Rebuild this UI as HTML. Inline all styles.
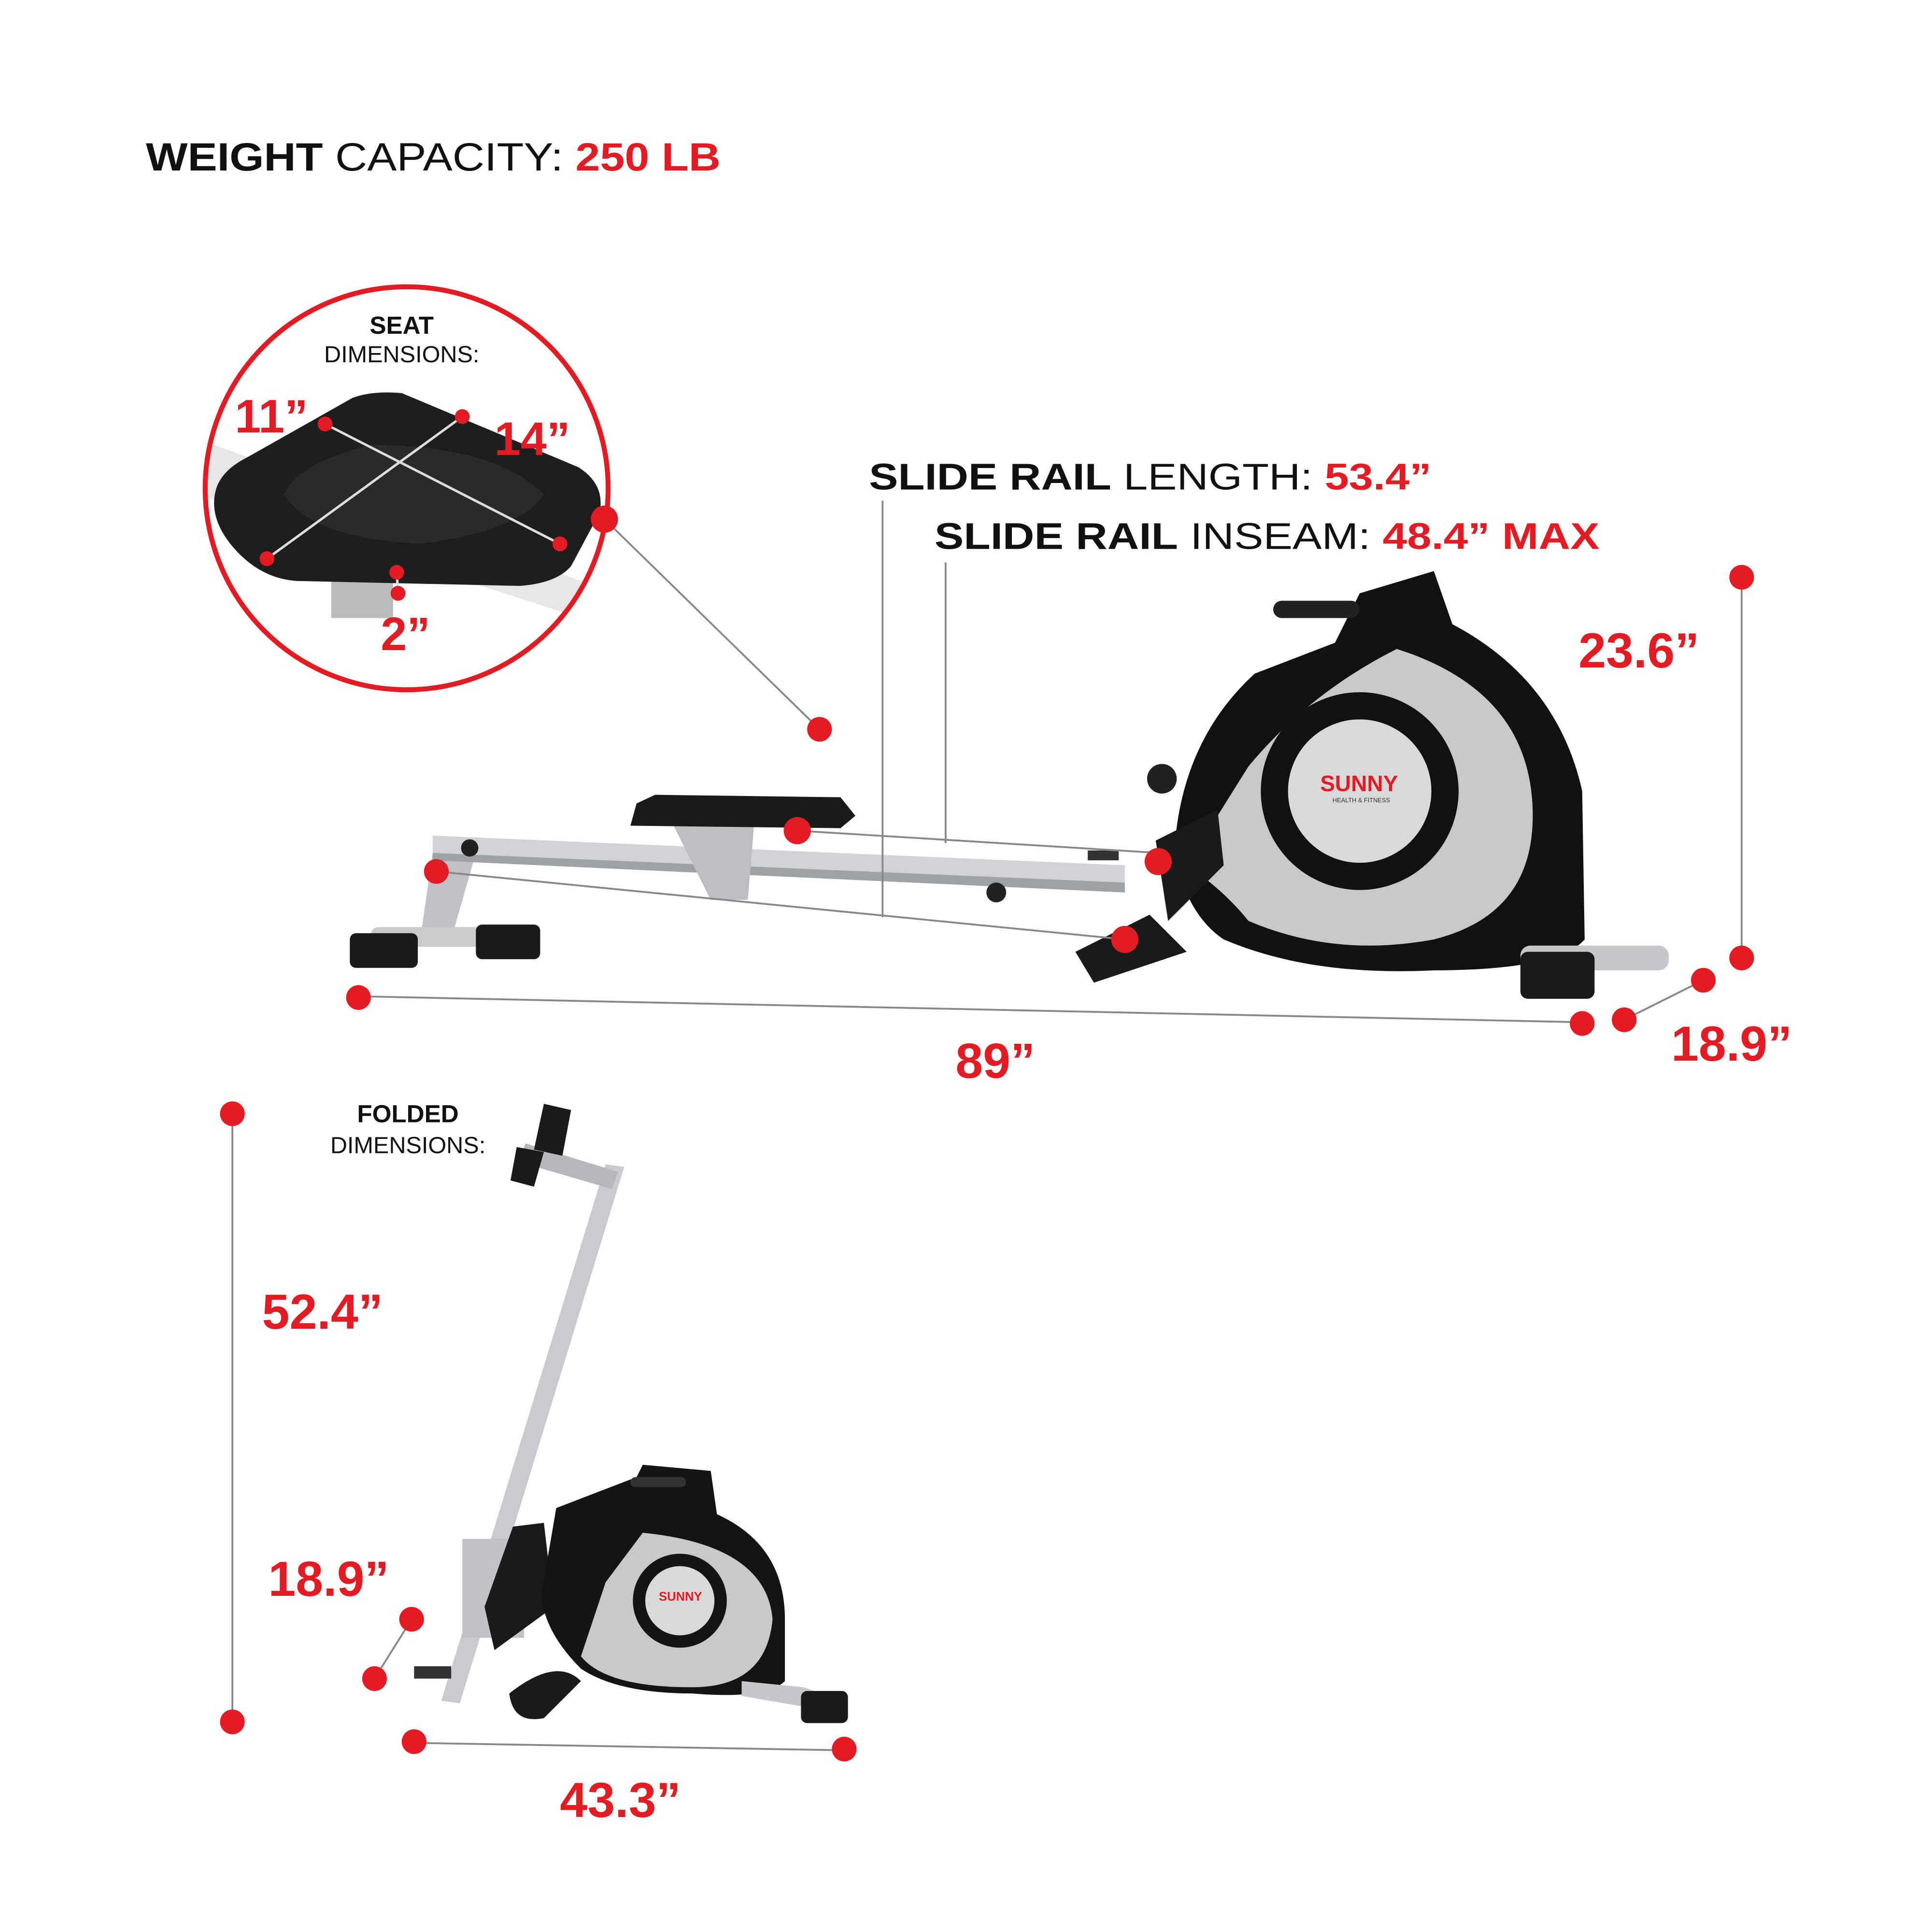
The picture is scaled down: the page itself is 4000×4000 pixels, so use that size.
<!DOCTYPE html>
<html><head><meta charset="utf-8">
<style>
html,body{margin:0;padding:0;background:#fff;}
svg{display:block;}
text{font-family:"Liberation Sans",sans-serif;}
.b{font-weight:bold;}
.r{fill:#e31b23;font-weight:bold;}
</style></head>
<body>
<svg width="4000" height="4000" viewBox="0 0 1563 1563" xmlns="http://www.w3.org/2000/svg">
<rect width="1563" height="1563" fill="#fff"/>

<text x="118" y="138" font-size="32" textLength="465" lengthAdjust="spacingAndGlyphs"><tspan class="b" fill="#111">WEIGHT</tspan><tspan fill="#111"> CAPACITY: </tspan><tspan class="r">250 LB</tspan></text>

<defs><clipPath id="cc"><circle cx="329" cy="395" r="163"/></clipPath></defs>
<g clip-path="url(#cc)">
  <polygon points="160,355 470,470 470,500 160,400" fill="#e6e6e8"/>
  <rect x="268" y="460" width="50" height="40" fill="#bbb"/>
  <path d="M175,395 Q180,380 200,370 L285,322 Q300,316 325,318 L468,378 Q490,392 485,415 L462,458 Q450,472 420,474 L240,470 Q210,468 188,442 Q168,418 175,395Z" fill="#1e1e1e"/>
  <path d="M230,400 Q240,375 300,360 Q400,360 440,400 Q420,430 340,440 Q250,435 230,400Z" fill="#2a2a2a"/>
</g>
<circle cx="329" cy="395" r="163" fill="none" stroke="#e31b23" stroke-width="4"/>
<text x="325" y="270" font-size="20" class="b" text-anchor="middle" fill="#111">SEAT</text>
<text x="325" y="293" font-size="19" text-anchor="middle" fill="#111">DIMENSIONS:</text>
<line x1="263" y1="343" x2="453" y2="440" stroke="#ddd" stroke-width="2"/>
<line x1="374" y1="337" x2="216" y2="452" stroke="#ddd" stroke-width="2"/>
<line x1="321" y1="463" x2="322" y2="480" stroke="#ddd" stroke-width="2"/>
<g fill="#e31b23">
<circle cx="263" cy="343" r="6"/><circle cx="374" cy="337" r="6"/><circle cx="216" cy="452" r="6"/><circle cx="453" cy="440" r="6"/><circle cx="321" cy="463" r="6"/><circle cx="322" cy="480" r="6"/>
</g>
<text x="190" y="350" font-size="38" class="r">11”</text>
<text x="400" y="368" font-size="38" class="r">14”</text>
<text x="308" y="526" font-size="38" class="r">2”</text>

<line x1="489" y1="420" x2="663" y2="590" stroke="#888" stroke-width="1.5"/>

<text x="703" y="396" font-size="30" textLength="455" lengthAdjust="spacingAndGlyphs"><tspan class="b" fill="#111">SLIDE RAIL</tspan><tspan fill="#111"> LENGTH: </tspan><tspan class="r">53.4”</tspan></text>
<text x="756" y="444" font-size="30" textLength="538" lengthAdjust="spacingAndGlyphs"><tspan class="b" fill="#111">SLIDE RAIL</tspan><tspan fill="#111"> INSEAM: </tspan><tspan class="r">48.4” MAX</tspan></text>

<polygon points="350,690 385,690 365,760 340,760" fill="#bfc1c4"/>
<rect x="300" y="750" width="130" height="16" rx="6" fill="#c9cacc"/>
<rect x="283" y="755" width="55" height="28" rx="5" fill="#1a1a1a"/>
<rect x="385" y="748" width="52" height="28" rx="5" fill="#1a1a1a"/>
<polygon points="350,676 910,700 910,722 350,696" fill="#d0d2d5"/>
<polygon points="350,690 910,714 910,722 350,696" fill="#9ea1a5"/>
<circle cx="380" cy="686" r="7" fill="#222"/>
<circle cx="806" cy="722" r="8" fill="#222"/>
<polygon points="545,668 610,668 605,728 575,728" fill="#bcbec1"/>
<path d="M515,650 L530,643 L680,645 L692,660 L680,670 L510,668 Z" fill="#1a1a1a"/>
<path d="M1015,545 L1080,520 L1100,480 L1160,462 L1175,505 Q1260,550 1280,640 L1282,760 Q1260,785 1160,785 Q1060,790 990,760 Q960,740 950,690 Q955,600 1015,545 Z" fill="#111"/>
<path d="M1130,525 Q1240,560 1240,660 Q1240,740 1160,760 Q1080,775 1010,745 Q990,720 960,700 L1010,620 Q1060,560 1130,525 Z" fill="#c7c8ca"/>
<circle cx="1100" cy="640" r="80" fill="#111"/>
<circle cx="1100" cy="640" r="58" fill="#d8d9db"/>
<text x="1068" y="640" font-size="18" class="r">SUNNY</text>
<text x="1078" y="649" font-size="5" fill="#333">HEALTH &amp; FITNESS</text>
<rect x="1030" y="486" width="70" height="14" rx="7" fill="#222"/>
<circle cx="940" cy="630" r="12" fill="#222"/>
<path d="M935,680 L985,655 L990,700 L945,745 Z" fill="#1a1a1a"/>
<path d="M870,770 L930,740 L960,770 L885,795 Z" fill="#1a1a1a"/>
<rect x="880" y="688" width="25" height="8" fill="#333"/>
<rect x="1230" y="765" width="120" height="20" rx="8" fill="#c5c7ca"/>
<rect x="1230" y="770" width="60" height="38" rx="6" fill="#1a1a1a"/>

<g stroke="#888" stroke-width="1.5" fill="none">
<line x1="714" y1="405" x2="714" y2="742"/>
<line x1="353" y1="705" x2="910" y2="760"/>
<line x1="765" y1="455" x2="765" y2="682"/>
<line x1="645" y1="672" x2="937" y2="690"/>
<line x1="290" y1="806" x2="1280" y2="827"/>
<line x1="1409" y1="467" x2="1409" y2="775"/>
<line x1="1314" y1="825" x2="1378" y2="793"/>
<line x1="188" y1="901" x2="188" y2="1393"/>
<line x1="335" y1="1410" x2="683" y2="1416"/>
<line x1="303" y1="1358" x2="333" y2="1310"/>
</g>

<g fill="#e31b23">
<circle cx="489" cy="420" r="11"/>
<circle cx="663" cy="590" r="10"/>
<circle cx="645" cy="672" r="11"/>
<circle cx="937" cy="697" r="11"/>
<circle cx="910" cy="760" r="11"/>
<circle cx="353" cy="705" r="10"/>
<circle cx="1409" cy="467" r="10"/>
<circle cx="1409" cy="775" r="10"/>
<circle cx="1378" cy="793" r="10"/>
<circle cx="1314" cy="825" r="10"/>
<circle cx="1280" cy="828" r="10"/>
<circle cx="290" cy="807" r="10"/>
<circle cx="188" cy="901" r="10"/>
<circle cx="188" cy="1393" r="10"/>
<circle cx="333" cy="1310" r="10"/>
<circle cx="303" cy="1358" r="10"/>
<circle cx="335" cy="1409" r="10"/>
<circle cx="683" cy="1415" r="10"/>
</g>

<text x="1277" y="540" font-size="40" class="r">23.6”</text>
<text x="1352" y="858" font-size="40" class="r">18.9”</text>
<text x="773" y="872" font-size="40" class="r">89”</text>

<text x="330" y="908" font-size="20" class="b" text-anchor="middle" fill="#111">FOLDED</text>
<text x="330" y="933" font-size="19" text-anchor="middle" fill="#111">DIMENSIONS:</text>
<text x="212" y="1075" font-size="40" class="r">52.4”</text>
<text x="217" y="1291" font-size="40" class="r">18.9”</text>
<text x="453" y="1470" font-size="40" class="r">43.3”</text>

<polygon points="490,942 505,944 372,1378 357,1376" fill="#c8cacd"/>
<polygon points="425,925 500,948 495,962 420,940" fill="#b5b7ba"/>
<path d="M440,893 L462,898 L455,935 L432,930 Z" fill="#1a1a1a"/>
<path d="M418,928 L440,932 L432,960 L413,955 Z" fill="#1a1a1a"/>
<rect x="374" y="1245" width="50" height="80" fill="#c0c2c5"/>
<path d="M415,1235 L440,1232 L448,1300 L400,1335 L392,1300 Z" fill="#1a1a1a"/>
<path d="M450,1220 L515,1195 L520,1185 L575,1190 L580,1225 Q635,1250 635,1310 L635,1360 Q620,1375 560,1370 Q500,1370 470,1350 Q440,1320 438,1290 Z" fill="#141414"/>
<path d="M520,1240 Q620,1250 625,1310 Q620,1365 560,1365 Q490,1365 470,1340 L490,1280 Z" fill="#c7c8ca"/>
<circle cx="550" cy="1295" r="38" fill="#141414"/>
<circle cx="550" cy="1295" r="28" fill="#d8d9db"/>
<text x="533" y="1295" font-size="10" class="r">SUNNY</text>
<rect x="510" y="1195" width="45" height="8" rx="4" fill="#333"/>
<path d="M412,1370 Q450,1340 470,1360 L440,1390 Q415,1395 412,1370 Z" fill="#1a1a1a"/>
<polygon points="600,1360 650,1365 680,1375 675,1385 600,1372" fill="#c5c7ca"/>
<rect x="648" y="1368" width="38" height="26" rx="5" fill="#1a1a1a"/>
<rect x="335" y="1348" width="30" height="10" fill="#333"/>
</svg>
</body></html>
